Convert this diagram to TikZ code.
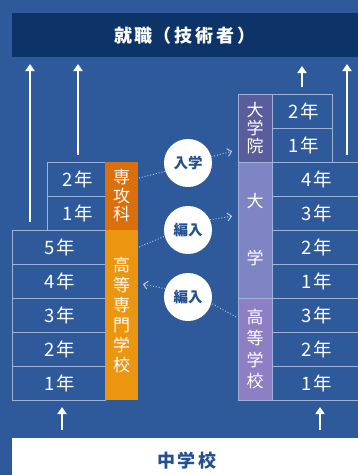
\documentclass[tikz,border=0pt]{standalone}
\usepackage{fontspec}
\setmainfont{Noto Sans CJK JP}
\usetikzlibrary{arrows.meta}
\definecolor{bg}{HTML}{2E5A9C}
\definecolor{navy}{HTML}{0D3469}
\definecolor{gridc}{HTML}{9DB3D9}
\definecolor{orgA}{HTML}{DB6F0C}
\definecolor{orgB}{HTML}{EB9510}
\definecolor{purA}{HTML}{5A5C9C}
\definecolor{purB}{HTML}{7F84C4}
\definecolor{purC}{HTML}{8E7FC5}
\definecolor{dotc}{HTML}{C8D4EA}
\definecolor{btext}{HTML}{24508F}
\newcommand{\yr}[1]{\hspace*{3pt}#1\hspace{2pt}年}
\tikzset{
  cell/.style={draw=gridc, line width=0.8pt, anchor=north west, minimum height=34pt, inner sep=0pt, outer sep=0pt, text=white, font=\fontsize{18.5}{20}\selectfont},
  vlabel/.style={draw=gridc, line width=0.8pt, anchor=north west, minimum width=34pt, inner sep=0pt, outer sep=0pt, text=white, align=center},
  olabel/.style={anchor=north west, minimum width=33pt, inner sep=0pt, outer sep=0pt, text=white, align=center},
  bubble/.style={circle, fill=white, minimum size=48pt, inner sep=0pt, text=btext, font=\bfseries\fontsize{14.5}{15}\selectfont},
  mainarrow/.style={draw=white, line width=1.8pt, -{Triangle[length=7pt,width=9pt]}},
  dotline/.style={draw=dotc, dotted, line width=0.9pt},
  dotarrow/.style={draw=dotc, dotted, line width=0.9pt, -{Straight Barb[length=4pt,width=8pt,line width=0.9pt]}, shorten >=1pt}
}
\begin{document}
\begin{tikzpicture}[x=1pt,y=-1pt]
\useasboundingbox (0,0) rectangle (358,475);
\clip (0,0) rectangle (358,475);
\fill[bg] (0,0) rectangle (358,475);
% header
\node[fill=navy, anchor=north west, minimum width=350pt, minimum height=44pt, inner sep=0pt] (header) at (12,13) {};
\node[text=white, font=\bfseries\fontsize{18}{19}\selectfont] (htext) at (185,36) {就\hspace{3pt}職\hspace{1pt}（\hspace{3pt}技\hspace{3pt}術\hspace{3pt}者\hspace{3pt}）};
% kosen
\foreach \n/\yy in {5/230,4/264,3/298,2/332,1/366}{
  \node[cell, minimum width=93pt] (k\n) at (12,\yy) {\yr{\n}};
}
\node[olabel, fill=orgB, minimum height=170pt, font=\fontsize{17}{20}\selectfont] (kosen) at (105,230) {高\\等\\専\\門\\学\\校};
% senkouka
\foreach \n/\yy in {2/162,1/196}{
  \node[cell, minimum width=58pt] (s\n) at (47,\yy) {\yr{\n}};
}
\node[olabel, fill=orgA, minimum height=68pt, font=\fontsize{17}{18.5}\selectfont] (senko) at (105,162) {専\\攻\\科};
% graduate
\node[vlabel, fill=purA, minimum height=68pt, font=\fontsize{17}{18}\selectfont] (grad) at (238,94) {大\\学\\院};
\foreach \n/\yy in {2/94,1/128}{
  \node[cell, minimum width=60pt] (g\n) at (272,\yy) {\yr{\n}};
}
% university
\node[vlabel, fill=purB, minimum height=136pt, font=\fontsize{17}{57}\selectfont] (univ) at (238,162) {大\\学};
\foreach \n/\yy in {4/162,3/196,2/230,1/264}{
  \node[cell, minimum width=90pt] (u\n) at (272,\yy) {\hspace*{-4pt}\yr{\n}};
}
% high school
\node[vlabel, fill=purC, minimum height=102pt, font=\fontsize{17}{21.5}\selectfont] (hs) at (238,298) {高\\等\\学\\校};
\foreach \n/\yy in {3/298,2/332,1/366}{
  \node[cell, minimum width=90pt] (h\n) at (272,\yy) {\hspace*{-4pt}\yr{\n}};
}
% bottom
\node[fill=white, anchor=north west, minimum width=350pt, minimum height=40pt, inner sep=0pt] (junior) at (12,438) {};
\node[text=btext, font=\bfseries\fontsize{18}{19}\selectfont] (jtext) at (187,461) {中\hspace{3pt}学\hspace{3pt}校};
% main arrows
\coordinate (a1s) at (30,222); \coordinate (a1e) at (30,64);
\coordinate (a2s) at (78,155); \coordinate (a2e) at (78,64);
\coordinate (a3s) at (302,87); \coordinate (a3e) at (302,66);
\coordinate (a4s) at (347,155); \coordinate (a4e) at (347,64);
\coordinate (b1s) at (62,430); \coordinate (b1e) at (62,407);
\coordinate (b2s) at (320,430); \coordinate (b2e) at (320,407);
\foreach \a in {a1,a2,a3,a4,b1,b2}{ \draw[mainarrow] (\a s) -- (\a e); }
% bubbles
\node[bubble] (c1) at (188,163) {入学};
\node[bubble] (c2) at (188,230) {編入};
\node[bubble] (c3) at (188,297) {編入};
% dotted connectors
\coordinate (p1a) at (139,178); \coordinate (p1b) at (233,151);
\coordinate (p2a) at (139,247); \coordinate (p2b) at (233,216);
\coordinate (p3a) at (236,317); \coordinate (p3b) at (142,284);
\draw[dotline] (p1a) -- (c1.200);
\draw[dotarrow] (c1.15) -- (p1b);
\draw[dotline] (p2a) -- (c2.195);
\draw[dotarrow] (c2.25) -- (p2b);
\draw[dotline] (p3a) -- (c3.345);
\draw[dotarrow] (c3.160) -- (p3b);
\end{tikzpicture}
\end{document}
